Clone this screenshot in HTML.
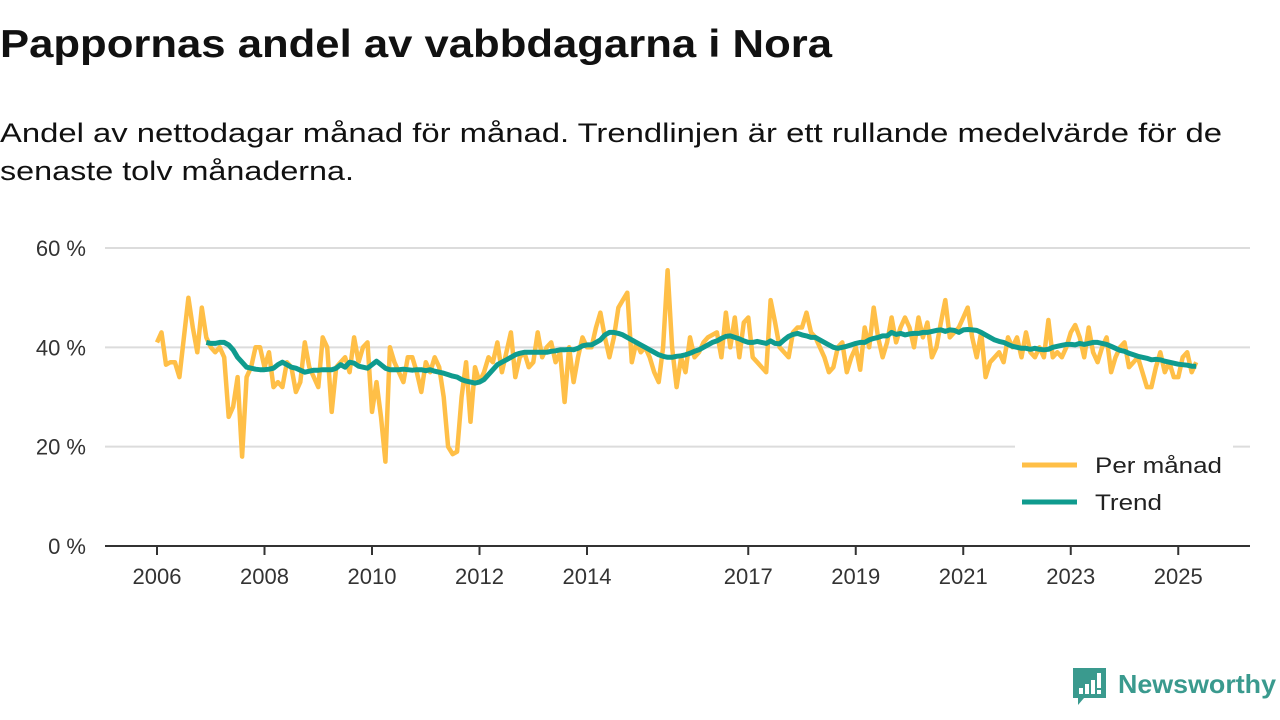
<!DOCTYPE html>
<html><head><meta charset="utf-8">
<style>
html,body{margin:0;padding:0;background:#fff;width:1280px;height:720px;overflow:hidden}
svg{display:block;font-family:"Liberation Sans","DejaVu Sans",sans-serif}
</style></head>
<body>
<svg id="chart" width="1280" height="720" viewBox="0 0 1280 720" xmlns="http://www.w3.org/2000/svg">
<text x="0" y="57" font-size="39" font-weight="bold" fill="#111" textLength="832" lengthAdjust="spacingAndGlyphs">Pappornas andel av vabbdagarna i Nora</text>
<text x="0" y="142" font-size="27" fill="#111" textLength="1222" lengthAdjust="spacingAndGlyphs">Andel av nettodagar månad för månad. Trendlinjen är ett rullande medelvärde för de</text>
<text x="0" y="180" font-size="27" fill="#111" textLength="354" lengthAdjust="spacingAndGlyphs">senaste tolv månaderna.</text>
<g id="grid"></g>
<g id="yaxis"></g>
<g id="xaxis"></g>
<g id="series"></g>
<g>
<rect x="1015" y="444" width="218" height="84" fill="#fff"/>
<line x1="1022" y1="465" x2="1077" y2="465" stroke="#FFBF47" stroke-width="5"/>
<text x="1095" y="473" font-size="22" fill="#222" textLength="127" lengthAdjust="spacingAndGlyphs">Per månad</text>
<line x1="1022" y1="502" x2="1077" y2="502" stroke="#0F9B8E" stroke-width="5"/>
<text x="1095" y="510" font-size="22" fill="#222" textLength="67" lengthAdjust="spacingAndGlyphs">Trend</text>
</g>
<g>
<path d="M1073 668 h33 v30 h-22 l-6 7 v-7 h-5 z" fill="#3A9A8E"/>
<rect x="1079" y="688" width="4" height="6" fill="#fff"/>
<rect x="1085" y="684" width="4" height="10" fill="#fff"/>
<rect x="1091" y="680" width="4" height="14" fill="#fff"/>
<rect x="1097" y="673" width="4" height="15" fill="#fff"/>
<rect x="1097" y="690" width="4" height="4" fill="#fff"/>
<text x="1118" y="693" font-size="26" font-weight="bold" fill="#3A9A8E" textLength="158" lengthAdjust="spacingAndGlyphs">Newsworthy</text>
</g>
</svg>
<script>
const monthly2006to2013 = [
41,43,36.5,37,37,34,42,50,44,39,48,42,
40,39,40,38,26,28,34,18,34,36,40,40,
36,39,32,33,32,37,36,31,33,41,36,34,
32,42,40,27,36,37,38,35,42,37,40,41,
27,33,26,17,40,37,35,33,38,38,35,31,
37,35,38,36,30,20,18.5,19,30,37,25,36,
33,35,38,37,41,35,39,43,34,38,39,36,
37,43,38,40,41,37,39,29,40,33,38,42];
const monthly2014to2025 = [
40,40,44,47,42,38,42,48,49.5,51,37,41,
39,40,38,35,33,40,55.5,40,32,38,35,42,
38,39,41,42,42.5,43,38,47,40,46,38,45,
46,38,37,36,35,49.5,45,40,39,38,43,44,
44,47,43,42,40,38,35,36,40,41,35,38,
40,35.5,44,40,48,42,38,41,46,41,44,46,
44,40,46,42,45,38,40,45,49.5,42,43,44,
46,48,42,38,43,34,37,38,39,37,42,40,
42,38,43,39,38,40,38,45.5,38,39,38,40,
43,44.5,42,38,44,39,37,40,42,35,38,40,
41,36,37,38,35,32,32,36,39,35,37,34,
34,38,39,35,37];
const trend = [
41,
40.8,40.8,41,41,40.5,39.5,38,37,36,35.8,35.6,35.5,
35.5,35.6,35.8,36.5,37,36.5,36,35.8,35.4,35,35.2,35.4,
35.4,35.5,35.5,35.5,35.8,36.5,36,37,36.8,36.2,36,35.8,
36.5,37.2,36.5,35.8,35.5,35.5,35.5,35.6,35.5,35.4,35.5,35.5,
35.3,35.5,35.2,35,34.8,34.5,34.2,34,33.5,33.2,33,32.8,
33,33.5,34.5,35.5,36.5,37,37.5,38,38.5,38.8,39,39,
39,39,39,39,39.2,39.3,39.5,39.5,39.6,39.5,39.8,40.3,
40.5,40.5,41,41.5,42.5,43,43,42.8,42.5,42,41.5,41,
40.5,40,39.5,39,38.5,38.2,38,38,38.2,38.3,38.5,38.8,
39.2,39.5,40,40.5,41,41.3,41.8,42.2,42.3,42,41.7,41.3,
41,41,41.2,41,40.8,41.3,40.8,40.7,41.5,42.2,42.6,42.8,
42.5,42.3,42,42,41.5,41,40.5,40,39.8,40,40.2,40.5,
40.8,41,41,41.5,41.8,42,42.3,42.3,43,42.6,42.8,42.5,
42.7,42.8,42.8,43,43,43.2,43.4,43.5,43.2,43.5,43.4,43,
43.5,43.6,43.5,43.4,43,42.5,42,41.5,41.2,41,40.6,40.2,
40,39.8,39.8,39.6,39.8,39.6,39.5,39.6,40,40.2,40.4,40.6,
40.6,40.5,40.8,40.6,40.8,41,41,40.8,40.6,40.2,39.8,39.4,
39.2,38.8,38.5,38.2,38,37.8,37.5,37.6,37.5,37.2,37,36.8,
36.6,36.5,36.4,36.2,36.2];
const yTicks = [0,20,40,60];
const yTickLabels = ["0 %","20 %","40 %","60 %"];
const xTickYears = [2006,2008,2010,2012,2014,2017,2019,2021,2023,2025];

const NS='http://www.w3.org/2000/svg';
const X0=157, PXYEAR=53.75, Y0=546, PXPCT=(546-248)/60;
const xScale = t => X0 + (t-2006)*PXYEAR;
const yScale = v => Y0 - v*PXPCT;
function mk(tag, attrs, parent){const e=document.createElementNS(NS,tag);for(const k in attrs)e.setAttribute(k,attrs[k]);parent.appendChild(e);return e;}
const grid=document.getElementById('grid'), ya=document.getElementById('yaxis'), xa=document.getElementById('xaxis'), ser=document.getElementById('series');
yTicks.forEach((v,i)=>{
  if(v>0){const g=mk('line',{x1:105,x2:1250,y1:yScale(v),y2:yScale(v),stroke:'#dcdcdc','stroke-width':2},grid);
  
  }
  const t=mk('text',{x:86,y:yScale(v)+8,'font-size':22,fill:'#333','text-anchor':'end'},ya);
  
  
  t.textContent=yTickLabels[i];
});
const ax=mk('line',{x1:105,x2:1250,y1:Y0,y2:Y0,stroke:'#333','stroke-width':2},xa);


xTickYears.forEach(yr=>{
  const x=xScale(yr);
  const tk=mk('line',{x1:x,x2:x,y1:Y0,y2:Y0+9,stroke:'#333','stroke-width':2},xa);
  
  
  const t=mk('text',{x:x,y:584,'font-size':22,fill:'#333','text-anchor':'middle'},xa);
  
  
  t.textContent=yr;
});
const monthly = monthly2006to2013.concat(monthly2014to2025);
const mPts = monthly.map((v,i)=>xScale(2006+i/12).toFixed(1)+','+yScale(v).toFixed(1)).join(' ');
const ml=mk('polyline',{points:mPts,fill:'none',stroke:'#FFBF47','stroke-width':4.5,'stroke-linejoin':'round'},ser);


const tPts = trend.map((v,i)=>xScale(2006+(11+i)/12).toFixed(1)+','+yScale(v).toFixed(1)).join(' ');
const tl=mk('polyline',{points:tPts,fill:'none',stroke:'#0F9B8E','stroke-width':5,'stroke-linejoin':'round'},ser);


</script>
</body></html>
